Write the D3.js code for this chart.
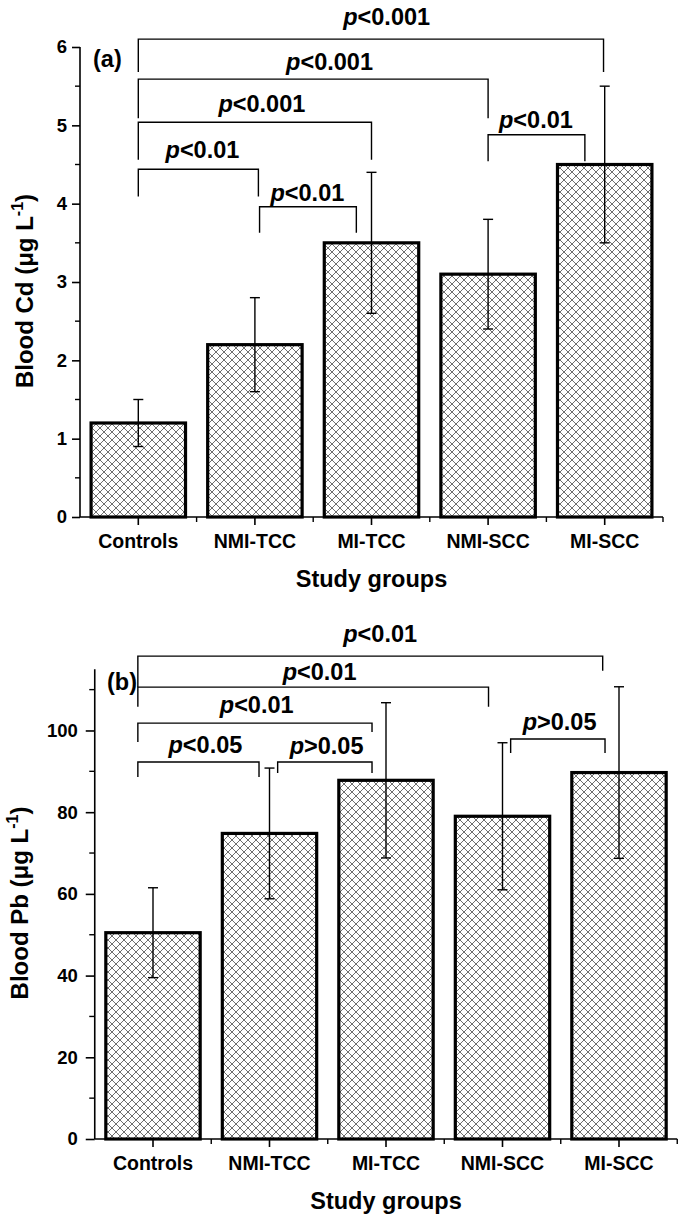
<!DOCTYPE html>
<html><head><meta charset="utf-8">
<script src="https://cdn.jsdelivr.net/npm/d3@7"></script>
<style>body{margin:0;background:#fff}svg{display:block}text{font-family:"Liberation Sans",Arial,sans-serif;font-weight:bold;fill:#000}</style>
</head><body><div id="chart"></div>
<script>
const categories = ["Controls","NMI-TCC","MI-TCC","NMI-SCC","MI-SCC"];
const cdMeans = [1.2, 2.2, 3.5, 3.1, 4.5];
const cdErrors = [0.3, 0.6, 0.9, 0.7, 1.0];
const pbMeans = [50.5, 74.8, 87.8, 79.0, 89.7];
const pbErrors = [11, 16, 19, 18, 21];
const cdTicks = [0,1,2,3,4,5,6];
const pbTicks = [0,20,40,60,80,100];
// brackets: [fromIndex, toIndex, lineValue, leftLegEnd, rightLegEnd]
const cdBrackets = [[0,3.99,6.10,5.68,5.68],[0,3.0,5.59,5.09,5.09],[0,2.0,5.04,4.56,4.56],[0,1.03,4.44,4.09,4.09],[1.04,1.87,3.96,3.63,3.63],[3.0,3.83,4.88,4.54,4.54]];
// labels: [text, centerIndex, baselineValue]
const cdLabels = [["<0.001",2.13,6.28],["<0.001",1.64,5.71],["<0.001",1.06,5.17],["<0.01",0.55,4.58],["<0.01",1.45,4.03],["<0.01",3.41,4.97]];
const pbBrackets = [[-0.13,3.86,118.2,110.6,114.6],[-0.13,2.88,110.6,105.8,105.8],[-0.13,1.88,101.8,97.2,99.6],[-0.13,0.91,92.3,88.6,88.6],[1.07,1.88,92.3,89.6,89.6],[3.07,3.88,97.9,94.5,94.5]];
const pbLabels = [["<0.01",1.95,121.7],["<0.01",1.43,112.4],["<0.01",0.89,104.3],["<0.05",0.45,94.5],[">0.05",1.49,94.2],[">0.05",3.49,100.1]];

const svg = d3.select("#chart").append("svg").attr("width",680).attr("height",1218);
const defs = svg.append("defs");
const pat = defs.append("pattern").attr("id","hatch").attr("patternUnits","userSpaceOnUse").attr("width",8).attr("height",8);
pat.append("rect").attr("width",8).attr("height",8).attr("fill","#fff");
pat.append("path").attr("d","M0,0L8,8M0,8L8,0M-1,1L1,-1M7,9L9,7M-1,7L1,9M7,-1L9,1").attr("stroke","#4a4a4a").attr("stroke-width",0.8);

function panel(o){
  const g = svg.append("g");
  const x = d3.scaleBand().domain(categories).range(o.xr).paddingInner(0.19).paddingOuter(0.095);
  const bw = (o.xr[1]-o.xr[0])/categories.length;
  const xi = i => o.xr[0] + bw*(i+0.5);
  const y = d3.scaleLinear().domain(o.yd).range(o.yr);
  g.selectAll("rect.bar").data(o.means).join("rect").attr("class","bar")
    .attr("x",(d,i)=>x(categories[i])).attr("width",x.bandwidth())
    .attr("y",d=>y(d)).attr("height",d=>y(0)-y(d))
    .attr("fill","url(#hatch)").attr("stroke","#000").attr("stroke-width",3.2);
  const eb = g.selectAll("g.eb").data(o.means).join("g").attr("stroke","#000").attr("stroke-width",1.4);
  eb.append("line").attr("x1",(d,i)=>xi(i)).attr("x2",(d,i)=>xi(i)).attr("y1",(d,i)=>y(d-o.errs[i])).attr("y2",(d,i)=>y(d+o.errs[i]));
  eb.append("line").attr("x1",(d,i)=>xi(i)-5).attr("x2",(d,i)=>xi(i)+5).attr("y1",(d,i)=>y(d+o.errs[i])).attr("y2",(d,i)=>y(d+o.errs[i]));
  eb.append("line").attr("x1",(d,i)=>xi(i)-5).attr("x2",(d,i)=>xi(i)+5).attr("y1",(d,i)=>y(d-o.errs[i])).attr("y2",(d,i)=>y(d-o.errs[i]));
  const ya = g.append("g").attr("transform",`translate(${o.xr[0]},0)`)
    .call(d3.axisLeft(y).tickValues(o.ticks).tickSize(o.tl).tickPadding(o.tp).tickFormat(d3.format("d")));
  ya.attr("font-size",null).attr("font-family",null);
  ya.select(".domain").attr("d",`M0,${y(o.yd[1])}V${y(0)}`).attr("stroke-width",1.6);
  ya.selectAll(".tick line").attr("stroke-width",1.6);
  ya.selectAll("text").style("font-size","18.5px");
  g.selectAll("line.ymin").data(o.minor).join("line").attr("x1",o.xr[0]-o.tl/2-1).attr("x2",o.xr[0]).attr("y1",d=>y(d)).attr("y2",d=>y(d)).attr("stroke","#000").attr("stroke-width",1.4);
  const xa = g.append("g").attr("transform",`translate(0,${y(0)})`)
    .call(d3.axisBottom(x).tickSize(8).tickPadding(99));
  xa.select(".domain").attr("d",`M${o.xr[0]},0H${o.xr[1]}`).attr("stroke-width",1.6);
  xa.selectAll(".tick line").attr("stroke-width",1.6);
  xa.selectAll("text").remove();
  g.selectAll("line.xmin").data(d3.range(1,categories.length+1)).join("line").attr("x1",i=>o.xr[0]+bw*i).attr("x2",i=>o.xr[0]+bw*i).attr("y1",y(0)).attr("y2",y(0)+5).attr("stroke","#000").attr("stroke-width",1.4);
  g.selectAll("text.cat").data(categories).join("text").attr("class","cat").attr("x",d=>x(d)+x.bandwidth()/2).attr("y",y(0)+31).attr("text-anchor","middle").style("font-size","19.5px").text(d=>d);
  g.append("text").attr("x",(o.xr[0]+o.xr[1])/2).attr("y",y(0)+70).attr("text-anchor","middle").style("font-size","23.5px").text("Study groups");
  const yt = g.append("text").attr("transform",`translate(${o.ytx},${o.yty}) rotate(-90)`).attr("text-anchor","middle").style("font-size","24px");
  yt.append("tspan").text(o.ytitle + " (μg L");
  yt.append("tspan").attr("dy",-10).style("font-size","16px").text("-1");
  yt.append("tspan").attr("dy",10).text(")");
  g.selectAll("path.br").data(o.brackets).join("path").attr("fill","none").attr("stroke","#000").attr("stroke-width",1.4)
    .attr("d",b=>`M${xi(b[0])},${y(b[3])}V${y(b[2])}H${xi(b[1])}V${y(b[4])}`);
  const lt = g.selectAll("text.pl").data(o.labels).join("text").attr("class","pl").attr("x",d=>xi(d[1])).attr("y",d=>y(d[2])).attr("text-anchor","middle").style("font-size","23.5px");
  lt.append("tspan").style("font-style","italic").text("p");
  lt.append("tspan").text(d=>d[0]);
  g.append("text").attr("x",o.pl[0]).attr("y",o.pl[1]).style("font-size","23.5px").text(o.tag);
}

panel({xr:[80,663], yd:[0,6], yr:[517,47], means:cdMeans, errs:cdErrors, ticks:cdTicks, minor:[0.5,1.5,2.5,3.5,4.5,5.5], tl:8, tp:5,
  ytitle:"Blood Cd", ytx:33, yty:291, brackets:cdBrackets, labels:cdLabels, tag:"(a)", pl:[93,67]});
panel({xr:[94.75,677.25], yd:[0,115], yr:[1139,669.2], means:pbMeans, errs:pbErrors, ticks:pbTicks, minor:[10,30,50,70,90,110], tl:9, tp:8,
  ytitle:"Blood Pb", ytx:28, yty:903, brackets:pbBrackets, labels:pbLabels, tag:"(b)", pl:[107,690]});
</script></body></html>
